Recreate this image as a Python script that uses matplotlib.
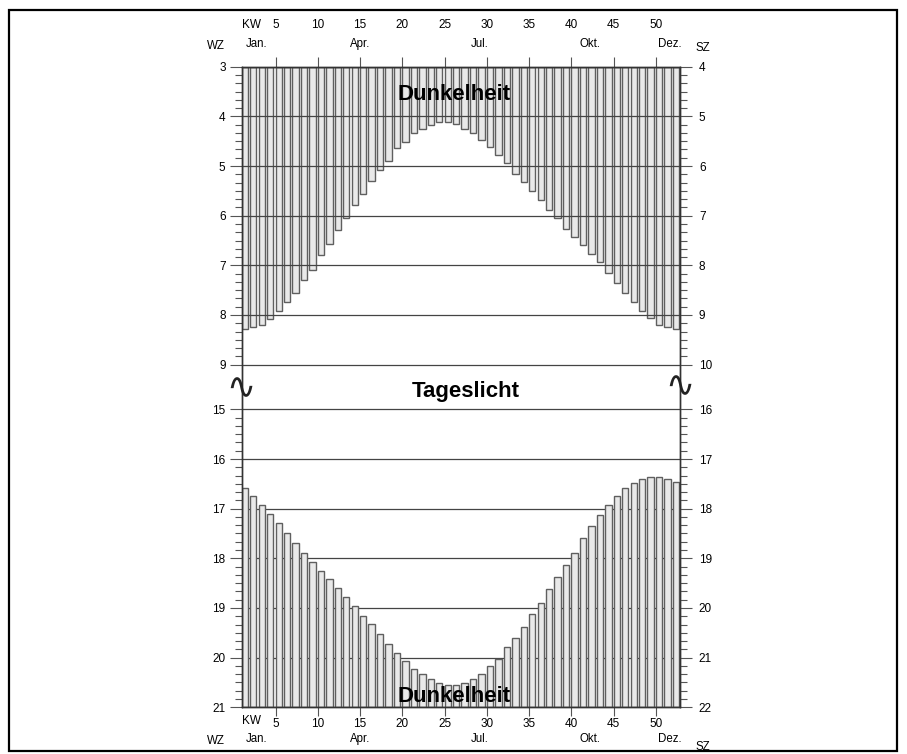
import numpy as np
import matplotlib
matplotlib.use("Agg")
import matplotlib.pyplot as plt
from matplotlib import transforms
from matplotlib.patches import Rectangle

# ---------------- data ----------------
weeks = list(range(1, 53))
sunrise_wz = [8.28, 8.25, 8.20, 8.08, 7.92, 7.74, 7.55, 7.30, 7.09, 6.79,
              6.58, 6.28, 6.04, 5.78, 5.56, 5.30, 5.08, 4.89, 4.64, 4.51,
              4.33, 4.25, 4.17, 4.11, 4.11, 4.15, 4.25, 4.33, 4.47, 4.61,
              4.78, 4.94, 5.16, 5.33, 5.50, 5.69, 5.88, 6.05, 6.27, 6.42,
              6.60, 6.77, 6.94, 7.16, 7.36, 7.55, 7.74, 7.92, 8.06, 8.20,
              8.25, 8.29]
sunset_wz = [16.58, 16.74, 16.92, 17.10, 17.29, 17.49, 17.69, 17.89, 18.07, 18.25,
             18.42, 18.60, 18.78, 18.96, 19.17, 19.32, 19.52, 19.72, 19.90, 20.06,
             20.23, 20.33, 20.43, 20.51, 20.55, 20.56, 20.51, 20.43, 20.33, 20.16,
             20.02, 19.79, 19.60, 19.39, 19.13, 18.90, 18.61, 18.37, 18.13, 17.90,
             17.59, 17.35, 17.13, 16.92, 16.75, 16.59, 16.48, 16.40, 16.36, 16.36,
             16.41, 16.47]
top_hours = [3, 4, 5, 6, 7, 8, 9]
bottom_hours = [15, 16, 17, 18, 19, 20, 21]
kw_ticks = [5, 10, 15, 20, 25, 30, 35, 40, 45, 50]
month_labels = ["Jan.", "Apr.", "Jul.", "Okt.", "Dez."]
month_pos = [2.75, 15.0, 29.2, 42.2, 51.7]
night_start = 3
night_end = 21
sz_offset = 1

# ---------------- broken time scale ----------------
def fwd(y):
    y = np.asarray(y, dtype=float)
    return np.where(y <= 9, y, np.where(y < 15, 9 + (y - 9) * 0.15, y - 5.1))

def inv(v):
    v = np.asarray(v, dtype=float)
    return np.where(v <= 9, v, np.where(v < 9.9, 9 + (v - 9) / 0.15, v + 5.1))

W, H = 907, 754
def fx(px):
    return px / W
def fy(py):
    return 1 - py / H

plt.rcParams["font.family"] = ["Liberation Sans", "DejaVu Sans"]

fig = plt.figure(figsize=(W / 100, H / 100), dpi=100)
ax = fig.add_axes([fx(241.7), fy(707.3), fx(680) - fx(241.7), fy(66.7) - fy(707.3)])
ax.set_yscale("function", functions=(fwd, inv))
ax.set_ylim(21, 3)
ax.set_xlim(1, 52.85)

bar_kw = dict(width=0.75, align="edge", color="#e9e9e9", edgecolor="#5f5f5f", linewidth=1.0)
ax.bar(weeks, np.array(sunrise_wz) - night_start, bottom=night_start, zorder=2, **bar_kw)
ax.bar(weeks, night_end - np.array(sunset_wz), bottom=sunset_wz, zorder=2, **bar_kw)

for h in top_hours:
    ax.axhline(h, color="#444444", lw=0.9, zorder=3)
for h in bottom_hours:
    ax.axhline(h, color="#444444", lw=0.9, zorder=1)

# y ticks
minor = [h + k / 6 for h in top_hours[:-1] + bottom_hours[:-1] for k in range(1, 6)]
ax.set_yticks(top_hours + bottom_hours)
ax.set_yticklabels([str(h) for h in top_hours + bottom_hours])
ax.set_yticks(minor, minor=True)
ax.tick_params(axis="y", which="major", direction="out", length=8.6, width=0.8,
               color="#555555", pad=3.0, labelsize=8.5)
ax.tick_params(axis="y", which="minor", direction="out", length=5, width=0.8, color="#555555")

axr = ax.twinx()
axr.set_yscale("function", functions=(fwd, inv))
axr.set_ylim(21, 3)
axr.set_yticks(top_hours + bottom_hours)
axr.set_yticklabels([str(h + sz_offset) for h in top_hours + bottom_hours])
axr.set_yticks(minor, minor=True)
axr.tick_params(axis="y", which="major", direction="out", length=8.6, width=0.8,
                color="#555555", pad=5.0, labelsize=8.5)
axr.tick_params(axis="y", which="minor", direction="out", length=5, width=0.8, color="#555555")

# x ticks (bottom)
ax.set_xticks(kw_ticks)
ax.set_xticklabels([str(k) for k in kw_ticks])
ax.tick_params(axis="x", which="major", direction="out", length=6.5, width=0.8,
               color="#555555", pad=1.0, labelsize=8.5)
# x ticks (top)
axt = ax.secondary_xaxis("top")
axt.set_xticks(kw_ticks)
axt.set_xticklabels([str(k) for k in kw_ticks])
axt.tick_params(axis="x", which="major", direction="out", length=7, width=0.8,
                color="#555555", pad=19.0, labelsize=8.5)

for a in (ax, axr):
    for s in a.spines.values():
        s.set_color("#333333")
        s.set_linewidth(1.0)
for s in axt.spines.values():
    s.set_visible(False)

# labels around the axes
bt = transforms.blended_transform_factory(ax.transData, fig.transFigure)
for lab, pos in zip(month_labels, month_pos):
    ax.text(pos, fy(44), lab, transform=bt, ha="center", va="center", fontsize=8.3, clip_on=False)
    ax.text(pos, fy(739), lab, transform=bt, ha="center", va="center", fontsize=8.3, clip_on=False)
ax.text(1, fy(25), "KW", transform=bt, ha="left", va="center", fontsize=8.5, clip_on=False)
ax.text(1, fy(721), "KW", transform=bt, ha="left", va="center", fontsize=8.5, clip_on=False)
fig.text(fx(216), fy(46), "WZ", ha="center", va="center", fontsize=8.3)
fig.text(fx(216), fy(741), "WZ", ha="center", va="center", fontsize=8.3)
fig.text(fx(703), fy(48), "SZ", ha="center", va="center", fontsize=8.3)
fig.text(fx(703), fy(747), "SZ", ha="center", va="center", fontsize=8.3)

# region annotations
fig.text(fx(454), fy(94), "Dunkelheit", ha="center", va="center", fontsize=16, fontweight="bold", zorder=5)
fig.text(fx(466), fy(391), "Tageslicht", ha="center", va="center", fontsize=16, fontweight="bold")
fig.text(fx(454), fy(697), "Dunkelheit", ha="center", va="center", fontsize=16, fontweight="bold", zorder=5)

# axis-break marks
for xp, yp in ((241, 388), (680, 386)):
    fig.text(fx(xp), fy(yp), "\u223f", ha="center", va="center", fontsize=25,
             family=["DejaVu Sans"], color="#222222")

# outer frame
fig.patches.append(Rectangle((fx(9), fy(751)), fx(897) - fx(9), fy(10) - fy(751),
                             transform=fig.transFigure, fill=False, lw=1.6,
                             edgecolor="black"))

fig.savefig("out.png", dpi=100)
